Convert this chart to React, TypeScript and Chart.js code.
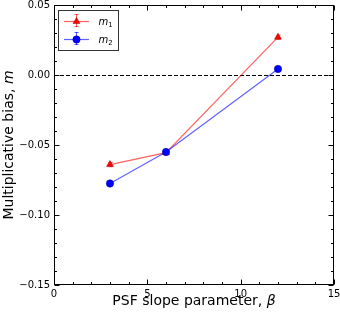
import React, { useEffect, useRef } from 'react';
import { Chart, registerables } from 'chart.js';

Chart.register(...registerables);

const betaValues = [3, 6, 12];
const m1Values = [-0.064, -0.0555, 0.027];
const m2Values = [-0.0775, -0.055, 0.0043];
const m1Errors = [0.0015, 0.0015, 0.0015];
const m2Errors = [0.0015, 0.0015, 0.0015];
const xTicks = [0, 5, 10, 15];
const yTicks = [-0.15, -0.1, -0.05, 0, 0.05];
const xMinorStep = 1;
const yMinorStep = 0.01;
const seriesNames = ['1', '2'];

const FONT = '"DejaVu Sans", sans-serif';
const RED_LINE = 'rgba(255,0,0,0.62)';
const BLUE_LINE = 'rgba(0,0,255,0.62)';

const fmtY = (v: number) => {
  const s = (Math.round(v * 100) / 100).toFixed(2);
  return s.replace('-', '\u2212');
};

const framePlugin = {
  id: 'frame',
  beforeDatasetsDraw(chart: any) {
    const { ctx, chartArea: a, scales } = chart;
    const y0 = Math.round(scales.y.getPixelForValue(0)) + 0.5;
    ctx.save();
    ctx.strokeStyle = '#000';
    ctx.lineWidth = 1;
    ctx.setLineDash([4, 2]);
    ctx.beginPath();
    ctx.moveTo(a.left, y0);
    ctx.lineTo(a.right, y0);
    ctx.stroke();
    ctx.setLineDash([]);
    const drawErr = (vals: number[], errs: number[], color: string) => {
      ctx.strokeStyle = color;
      ctx.lineWidth = 1;
      vals.forEach((v, i) => {
        const x = Math.round(scales.x.getPixelForValue(betaValues[i])) + 0.5;
        const yt = scales.y.getPixelForValue(v + errs[i]);
        const yb = scales.y.getPixelForValue(v - errs[i]);
        ctx.beginPath();
        ctx.moveTo(x, yt);
        ctx.lineTo(x, yb);
        ctx.moveTo(x - 2, yt);
        ctx.lineTo(x + 2, yt);
        ctx.moveTo(x - 2, yb);
        ctx.lineTo(x + 2, yb);
        ctx.stroke();
      });
    };
    drawErr(m1Values, m1Errors, RED_LINE);
    drawErr(m2Values, m2Errors, BLUE_LINE);
    ctx.restore();
  },
  afterDatasetsDraw(chart: any) {
    const { ctx, chartArea: a, scales } = chart;
    ctx.save();
    ctx.strokeStyle = '#000';
    ctx.lineWidth = 1;
    const L = Math.round(a.left) + 0.5;
    const R = Math.round(a.right) - 0.5;
    const T = Math.round(a.top) + 0.5;
    const B = Math.round(a.bottom) - 0.5;
    ctx.strokeRect(L, T, R - L, B - T);
    ctx.beginPath();
    for (let v = xTicks[0]; v <= xTicks[xTicks.length - 1] + 1e-9; v += xMinorStep) {
      const major = xTicks.some((t) => Math.abs(t - v) < 1e-9);
      const len = major ? 5 : 2.5;
      const x = Math.round(scales.x.getPixelForValue(v)) + 0.5;
      ctx.moveTo(x, B);
      ctx.lineTo(x, B - len);
      ctx.moveTo(x, T);
      ctx.lineTo(x, T + len);
    }
    const yMin = yTicks[0];
    const yMax = yTicks[yTicks.length - 1];
    const n = Math.round((yMax - yMin) / yMinorStep);
    for (let k = 0; k <= n; k++) {
      const v = yMin + k * yMinorStep;
      const major = yTicks.some((t) => Math.abs(t - v) < 1e-9);
      const len = major ? 5 : 2.5;
      const y = Math.round(scales.y.getPixelForValue(v)) + 0.5;
      ctx.moveTo(L, y);
      ctx.lineTo(L + len, y);
      ctx.moveTo(R, y);
      ctx.lineTo(R - len, y);
    }
    ctx.stroke();
    ctx.restore();
  },
  afterDraw(chart: any) {
    const { ctx, chartArea: a } = chart;
    ctx.save();
    ctx.fillStyle = '#000';
    ctx.textBaseline = 'alphabetic';
    const normal = `14px ${FONT}`;
    const italic = `italic 14px ${FONT}`;
    const drawParts = (parts: [string, string][], cx: number, cy: number) => {
      let total = 0;
      parts.forEach(([t, f]) => {
        ctx.font = f;
        total += ctx.measureText(t).width;
      });
      let x = cx - total / 2;
      ctx.textAlign = 'left';
      parts.forEach(([t, f]) => {
        ctx.font = f;
        ctx.fillText(t, x, cy);
        x += ctx.measureText(t).width;
      });
    };
    drawParts(
      [
        ['PSF slope parameter, ', normal],
        ['\u03B2', italic],
      ],
      (a.left + a.right) / 2,
      305
    );
    ctx.save();
    ctx.translate(13, (a.top + a.bottom) / 2);
    ctx.rotate(-Math.PI / 2);
    drawParts(
      [
        ['Multiplicative bias, ', normal],
        ['m', italic],
      ],
      0,
      0
    );
    ctx.restore();

    // legend
    const bx = 58.5;
    const by = 10.5;
    const bw = 60;
    const bh = 40;
    ctx.fillStyle = '#fff';
    ctx.fillRect(bx, by, bw, bh);
    ctx.strokeStyle = '#333';
    ctx.lineWidth = 1;
    ctx.strokeRect(bx, by, bw, bh);
    const rows = [
      { y: 21, line: RED_LINE, fill: '#ff0000', edge: '#990000', tri: true, sub: seriesNames[0] },
      { y: 39, line: BLUE_LINE, fill: '#0000ff', edge: '#000099', tri: false, sub: seriesNames[1] },
    ];
    rows.forEach((r) => {
      ctx.strokeStyle = r.line;
      ctx.lineWidth = 1.2;
      ctx.beginPath();
      ctx.moveTo(64, r.y + 0.5);
      ctx.lineTo(89, r.y + 0.5);
      ctx.stroke();
      ctx.lineWidth = 1;
      ctx.beginPath();
      ctx.moveTo(76.5, r.y - 7);
      ctx.lineTo(76.5, r.y + 6);
      ctx.moveTo(74.5, r.y - 7 + 0.5);
      ctx.lineTo(78.5, r.y - 7 + 0.5);
      ctx.moveTo(74.5, r.y + 6 - 0.5);
      ctx.lineTo(78.5, r.y + 6 - 0.5);
      ctx.stroke();
      ctx.fillStyle = r.fill;
      ctx.strokeStyle = r.edge;
      ctx.lineWidth = 0.5;
      ctx.beginPath();
      const cx = 76.5;
      const cy = r.y + 0.5;
      if (r.tri) {
        const rad = 4;
        for (let k = 0; k < 3; k++) {
          const ang = (k * 2 * Math.PI) / 3;
          const px = cx + Math.sin(ang) * rad;
          const py = cy - Math.cos(ang) * rad;
          if (k === 0) ctx.moveTo(px, py);
          else ctx.lineTo(px, py);
        }
        ctx.closePath();
      } else {
        ctx.arc(cx, cy, 3.7, 0, Math.PI * 2);
      }
      ctx.fill();
      ctx.stroke();
      ctx.fillStyle = '#000';
      ctx.textAlign = 'left';
      ctx.textBaseline = 'alphabetic';
      ctx.font = `italic 10px ${FONT}`;
      ctx.fillText('m', 98.5, r.y + 4);
      const w = ctx.measureText('m').width;
      ctx.font = `7px ${FONT}`;
      ctx.fillText(r.sub, 98.5 + w, r.y + 6);
    });
    ctx.restore();
  },
};

export default function App() {
  const ref = useRef<HTMLCanvasElement | null>(null);
  useEffect(() => {
    if (!ref.current) return;
    const chart = new Chart(ref.current, {
      type: 'line',
      data: {
        datasets: [
          {
            label: 'm1',
            data: betaValues.map((x, i) => ({ x, y: m1Values[i] })),
            borderColor: RED_LINE,
            borderWidth: 1.2,
            backgroundColor: '#ff0000',
            pointBackgroundColor: '#ff0000',
            pointBorderColor: '#990000',
            pointBorderWidth: 0.5,
            pointStyle: 'triangle',
            pointRadius: 4,
            tension: 0,
            order: 1,
          },
          {
            label: 'm2',
            data: betaValues.map((x, i) => ({ x, y: m2Values[i] })),
            borderColor: BLUE_LINE,
            borderWidth: 1.2,
            backgroundColor: '#0000ff',
            pointBackgroundColor: '#0000ff',
            pointBorderColor: '#000099',
            pointBorderWidth: 0.5,
            pointStyle: 'circle',
            pointRadius: 3.7,
            tension: 0,
            order: 0,
          },
        ],
      },
      options: {
        animation: false,
        responsive: false,
        devicePixelRatio: 1,
        layout: { padding: { top: 5, right: 6, left: 0, bottom: 0 } },
        plugins: { legend: { display: false }, tooltip: { enabled: false } },
        scales: {
          x: {
            type: 'linear',
            min: xTicks[0],
            max: xTicks[xTicks.length - 1],
            grid: { display: false, drawTicks: false },
            border: { display: false },
            afterBuildTicks: (s: any) => {
              s.ticks = xTicks.map((v) => ({ value: v }));
            },
            ticks: {
              padding: 3,
              color: '#000',
              font: { family: FONT, size: 10 },
              maxRotation: 0,
              callback: (v: any) => String(v),
            },
            afterFit: (s: any) => {
              s.height = 30;
              s.paddingLeft = 0;
              s.paddingRight = 0;
            },
          },
          y: {
            type: 'linear',
            min: yTicks[0],
            max: yTicks[yTicks.length - 1],
            grid: { display: false, drawTicks: false },
            border: { display: false },
            afterBuildTicks: (s: any) => {
              s.ticks = yTicks.map((v) => ({ value: v }));
            },
            ticks: {
              padding: 4,
              color: '#000',
              font: { family: FONT, size: 10 },
              callback: (v: any) => fmtY(Number(v)),
            },
            afterFit: (s: any) => {
              s.width = 54;
              s.paddingTop = 0;
              s.paddingBottom = 0;
            },
          },
        },
      },
      plugins: [framePlugin],
    } as any);
    return () => chart.destroy();
  }, []);
  return (
    <div style={{ position: 'fixed', left: 0, top: 0, width: 340, height: 315, background: '#fff' }}>
      <canvas ref={ref} width={340} height={315} style={{ width: 340, height: 315, display: 'block' }} />
    </div>
  );
}
